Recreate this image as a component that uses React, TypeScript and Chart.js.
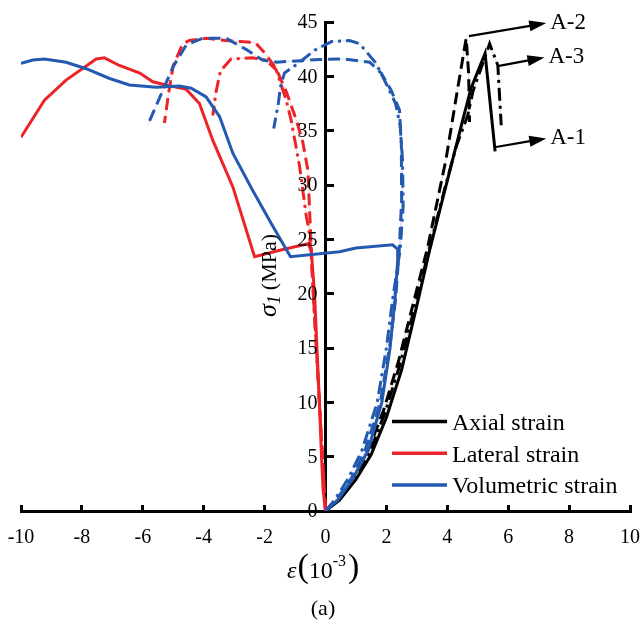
import { useEffect, useRef } from 'react';
import { Chart, registerables } from 'chart.js';

Chart.register(...registerables);

const SERIF = "'Liberation Serif', 'Times New Roman', serif";

// Strain in 10^-3, stress σ1 in MPa. Specimens: A-1 solid, A-2 dashed, A-3 dash-dot.
const axialA1Strain = [0, 0.46, 1.0, 1.5, 2.0, 2.5, 3.0, 3.42, 4.0, 4.5, 4.78, 5.24, 5.57];
const axialA1Stress = [0, 1.0, 2.9, 5.2, 8.6, 13.0, 18.9, 24.0, 30.4, 35.9, 38.9, 42.1, 33.1];
const axialA2Strain = [0, 0.4, 0.9, 1.4, 1.9, 2.4, 2.9, 3.35, 3.96, 4.3, 4.62, 4.7, 4.73];
const axialA2Stress = [0, 1.1, 3.1, 5.6, 9.2, 13.8, 19.3, 24.2, 32.4, 38.2, 43.5, 40.3, 35.8];
const axialA3Strain = [0, 0.42, 0.95, 1.45, 1.95, 2.45, 2.95, 3.4, 3.9, 4.3, 4.67, 4.84, 5.39, 5.66, 5.77];
const axialA3Stress = [0, 1.0, 3.0, 5.4, 9.0, 13.5, 19.0, 24.0, 29.5, 33.6, 36.4, 38.6, 43.0, 41.0, 35.5];

const lateralA1Strain = [0, -0.08, -0.13, -0.2, -0.28, -0.36, -0.47, -0.58, -1.5, -2.33, -3.04, -3.7, -4.14, -4.57, -5.23, -5.67, -6.1, -6.77, -7.26, -7.53, -8.52, -9.23, -10.0];
const lateralA1Stress = [0, 2, 5, 10, 15, 20, 24, 24.6, 24.0, 23.4, 29.8, 34.1, 37.5, 38.8, 39.2, 39.5, 40.3, 41.0, 41.7, 41.6, 39.65, 37.8, 34.4];
const lateralA2Strain = [0, -0.1, -0.2, -0.3, -0.4, -0.47, -0.52, -0.58, -0.75, -0.96, -1.29, -1.62, -1.95, -2.3, -2.8, -3.3, -3.92, -4.47, -4.69, -5.0, -5.15, -5.29];
const lateralA2Stress = [0, 5, 10, 15, 20, 24.3, 27.5, 31.4, 34.0, 36.0, 38.6, 40.7, 42.0, 43.1, 43.2, 43.3, 43.5, 43.3, 43.0, 41.0, 38.5, 35.7];
const lateralA3Strain = [0, -0.1, -0.2, -0.3, -0.4, -0.48, -0.55, -0.63, -0.85, -1.13, -1.29, -1.62, -1.95, -2.4, -3.1, -3.45, -3.6, -3.7];
const lateralA3Stress = [0, 5, 10, 15, 20, 24, 26, 27.1, 31.7, 36.0, 37.8, 40.6, 41.5, 41.7, 41.6, 40.5, 38.5, 36.4];

const volumetricA1Strain = [0, 0.4, 0.9, 1.4, 1.85, 2.12, 2.28, 2.37, 2.37, 2.2, 1.0, 0.46, -1.15, -1.73, -2.39, -3.04, -3.48, -3.92, -4.41, -4.79, -5.56, -6.44, -7.09, -7.86, -8.52, -9.23, -9.61, -10.0];
const volumetricA1Stress = [0, 1, 3, 5.6, 10, 15, 19.4, 23, 24.1, 24.5, 24.2, 23.85, 23.4, 26.2, 29.5, 32.9, 36.3, 38.1, 38.9, 39.1, 39.0, 39.2, 39.8, 40.7, 41.3, 41.6, 41.5, 41.2];
const volumetricA2Strain = [0, 0.35, 0.85, 1.3, 1.8, 2.1, 2.3, 2.42, 2.5, 2.49, 2.43, 2.16, 1.83, 1.45, 0.62, -0.2, -1.6, -2.07, -2.56, -3.26, -4.03, -4.57, -5.0, -5.84];
const volumetricA2Stress = [0, 1, 3, 5.6, 10, 15, 19.4, 24, 28.6, 33.8, 36.9, 38.7, 40.3, 41.3, 41.6, 41.55, 41.3, 41.5, 42.4, 43.5, 43.5, 42.9, 40.9, 35.5];
const volumetricA3Strain = [0, 0.3, 0.75, 1.2, 1.7, 2.0, 2.2, 2.45, 2.55, 2.53, 2.45, 2.3, 2.05, 1.66, 1.12, 0.79, 0.2, -0.36, -0.85, -1.35, -1.48, -1.55, -1.7];
const volumetricA3Stress = [0, 1, 3, 5.6, 10, 15, 19.4, 24, 28, 32.3, 35.5, 37.5, 39, 41.2, 43.0, 43.3, 43.2, 42.4, 41.3, 40.3, 39.0, 37.5, 35.2];

const xTicksMin = -10;
const xTicksMax = 10;
const xTickStep = 2;
const yTicksMin = 0;
const yTicksMax = 45;
const yTickStep = 5;

const legendLabels = ['Axial strain', 'Lateral strain', 'Volumetric strain'];

// Specimen call-outs: arrow from the end of each axial curve to its name
const calloutLabels = ['A-2', 'A-3', 'A-1'];
const calloutFromStrain = [4.71, 5.66, 5.6];
const calloutFromStress = [43.7, 40.94, 33.5];
const calloutToStrain = [7.25, 7.19, 7.25];
const calloutToStress = [44.9, 41.74, 34.29];

const BLACK = '#000000';
const RED = '#ec2328';
const BLUE = '#2459b0';
const SOLID: number[] = [];
const DASH = [12, 6];
const DASH_DOT = [13, 5, 3, 5];

const pts = (xs: number[], ys: number[]) => xs.map((x, i) => ({ x, y: ys[i] }));

type Series = { xs: number[]; ys: number[]; color: string; dash: number[]; faint: string };

const series: Series[] = [
  { xs: volumetricA1Strain, ys: volumetricA1Stress, color: BLUE, dash: SOLID, faint: '' },
  { xs: volumetricA2Strain, ys: volumetricA2Stress, color: BLUE, dash: DASH, faint: 'rgba(36,89,176,0.18)' },
  { xs: volumetricA3Strain, ys: volumetricA3Stress, color: BLUE, dash: DASH_DOT, faint: 'rgba(36,89,176,0.18)' },
  { xs: lateralA1Strain, ys: lateralA1Stress, color: RED, dash: SOLID, faint: '' },
  { xs: lateralA2Strain, ys: lateralA2Stress, color: RED, dash: DASH, faint: 'rgba(236,35,40,0.18)' },
  { xs: lateralA3Strain, ys: lateralA3Stress, color: RED, dash: DASH_DOT, faint: 'rgba(236,35,40,0.18)' },
  { xs: axialA1Strain, ys: axialA1Stress, color: BLACK, dash: SOLID, faint: '' },
  { xs: axialA2Strain, ys: axialA2Stress, color: BLACK, dash: DASH, faint: 'rgba(0,0,0,0.15)' },
  { xs: axialA3Strain, ys: axialA3Stress, color: BLACK, dash: DASH_DOT, faint: 'rgba(0,0,0,0.15)' },
];

const buildDatasets = () => {
  const main = series.map((s) => ({
    data: pts(s.xs, s.ys),
    borderColor: s.color,
    borderWidth: 3,
    borderDash: s.dash,
    pointRadius: 0,
    fill: false,
    tension: 0,
  }));
  // thin continuous trace under the broken lines
  const traces = series
    .filter((s) => s.faint)
    .map((s) => ({
      data: pts(s.xs, s.ys),
      borderColor: s.faint,
      borderWidth: 1,
      borderDash: SOLID,
      pointRadius: 0,
      fill: false,
      tension: 0,
    }));
  return [...main, ...traces];
};

const decorPlugin = {
  id: 'decor',
  afterDraw(chart: any) {
    const { ctx } = chart;
    const xs = chart.scales.x;
    const ys = chart.scales.y;
    ctx.save();
    ctx.setLineDash([]);
    ctx.fillStyle = '#000';
    ctx.strokeStyle = '#000';

    // stress tick labels, left of the vertical axis
    const axisX = xs.getPixelForValue(0);
    ctx.font = `20px ${SERIF}`;
    ctx.textAlign = 'right';
    ctx.textBaseline = 'middle';
    ys.ticks.forEach((t: any) => {
      ctx.fillText(String(t.value), axisX - 8, ys.getPixelForValue(t.value) + 1);
    });

    // call-out arrows with specimen names
    calloutLabels.forEach((label, i) => {
      const x0 = xs.getPixelForValue(calloutFromStrain[i]);
      const y0 = ys.getPixelForValue(calloutFromStress[i]);
      const x1 = xs.getPixelForValue(calloutToStrain[i]);
      const y1 = ys.getPixelForValue(calloutToStress[i]);
      const ang = Math.atan2(y1 - y0, x1 - x0);
      const head = 17;
      const half = 5.5;
      const bx = x1 - head * Math.cos(ang);
      const by = y1 - head * Math.sin(ang);
      ctx.lineWidth = 2.2;
      ctx.beginPath();
      ctx.moveTo(x0, y0);
      ctx.lineTo(bx + 2 * Math.cos(ang), by + 2 * Math.sin(ang));
      ctx.stroke();
      ctx.beginPath();
      ctx.moveTo(x1, y1);
      ctx.lineTo(bx + half * Math.sin(ang), by - half * Math.cos(ang));
      ctx.lineTo(bx - half * Math.sin(ang), by + half * Math.cos(ang));
      ctx.closePath();
      ctx.fill();
      ctx.font = `23px ${SERIF}`;
      ctx.textAlign = 'left';
      ctx.textBaseline = 'middle';
      ctx.fillText(label, x1 + 4, y1);
    });

    // legend
    const legendColors = [BLACK, RED, BLUE];
    legendLabels.forEach((label, i) => {
      const ly = 421.5 + i * 31.7;
      ctx.strokeStyle = legendColors[i];
      ctx.lineWidth = 3.5;
      ctx.beginPath();
      ctx.moveTo(392, ly);
      ctx.lineTo(447, ly);
      ctx.stroke();
      ctx.fillStyle = '#000';
      ctx.font = `24px ${SERIF}`;
      ctx.textAlign = 'left';
      ctx.textBaseline = 'alphabetic';
      ctx.fillText(label, 452, ly + 8.5);
    });

    // x-axis title: ε(10^-3)
    ctx.fillStyle = '#000';
    ctx.textAlign = 'left';
    ctx.textBaseline = 'alphabetic';
    let cx = 287;
    const put = (t: string, font: string, base: number, gap = 0) => {
      ctx.font = font;
      ctx.fillText(t, cx, base);
      cx += ctx.measureText(t).width + gap;
    };
    put('ε', `italic 24px ${SERIF}`, 578, 1);
    put('(', `34px ${SERIF}`, 577);
    put('10', `24px ${SERIF}`, 578);
    put('-3', `16px ${SERIF}`, 566, 2);
    put(')', `34px ${SERIF}`, 577);

    // y-axis title: σ1 (MPa), reading upwards
    ctx.save();
    ctx.translate(276, 317);
    ctx.rotate(-Math.PI / 2);
    let tx = 0;
    ctx.font = `italic 26px ${SERIF}`;
    ctx.fillText('σ', tx, 0);
    tx += ctx.measureText('σ').width;
    ctx.font = `italic 18px ${SERIF}`;
    ctx.fillText('1', tx, 4);
    tx += ctx.measureText('1').width + 5;
    ctx.font = `22px ${SERIF}`;
    ctx.fillText('(MPa)', tx, 0);
    ctx.restore();

    // panel caption
    ctx.font = `22px ${SERIF}`;
    ctx.textAlign = 'center';
    ctx.fillText('(a)', 323, 615);

    ctx.restore();
  },
};

export default function App() {
  const canvasRef = useRef<HTMLCanvasElement | null>(null);

  useEffect(() => {
    if (!canvasRef.current) return;
    const chart = new Chart(canvasRef.current, {
      type: 'line',
      data: { datasets: buildDatasets() as any },
      options: {
        responsive: false,
        animation: false,
        layout: { padding: { left: 21, right: 14, top: 22, bottom: 113 } },
        plugins: { legend: { display: false }, tooltip: { enabled: false } },
        scales: {
          x: {
            type: 'linear',
            min: xTicksMin,
            max: xTicksMax,
            position: { y: 0 } as any,
            ticks: {
              stepSize: xTickStep,
              color: '#000',
              padding: 0,
              font: { family: SERIF, size: 20, lineHeight: 3.5 },
              callback: (v: any) => String(v),
            },
            grid: {
              drawOnChartArea: false,
              drawTicks: true,
              tickLength: -8,
              tickWidth: 3,
              tickColor: '#000',
              color: '#000',
              lineWidth: 3,
            },
            border: { display: true, color: '#000', width: 3 },
          },
          y: {
            type: 'linear',
            min: yTicksMin,
            max: yTicksMax,
            position: { x: 0 } as any,
            ticks: {
              stepSize: yTickStep,
              display: false,
              padding: 0,
            },
            grid: {
              drawOnChartArea: false,
              drawTicks: true,
              tickLength: -10,
              tickWidth: 3,
              tickColor: '#000',
              color: '#000',
              lineWidth: 3,
            },
            border: { display: true, color: '#000', width: 3 },
          },
        },
      },
      plugins: [decorPlugin],
    });
    return () => chart.destroy();
  }, []);

  return (
    <div style={{ position: 'absolute', left: 0, top: 0, width: 644, height: 624, background: '#fff' }}>
      <canvas ref={canvasRef} width={644} height={624} />
    </div>
  );
}
